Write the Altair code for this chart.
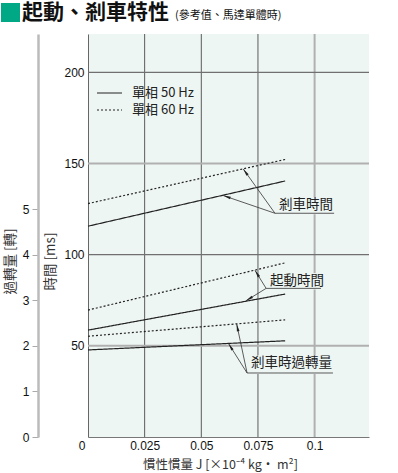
import math
import altair as alt
import pandas as pd

# ---------------- data ----------------
freqs = ["單相 50 Hz", "單相 60 Hz"]
j_points = [0.0, 0.087]                       # inertia J at line start / end
brake_50 = [115.6, 140.4]                     # braking time [ms]
brake_60 = [128.0, 152.2]
start_50 = [58.6, 78.4]                       # starting time [ms]
start_60 = [69.6, 95.5]
over_50 = [1.91, 2.11]                        # overrun [rev]
over_60 = [2.21, 2.57]

x_ticks = [0, 0.025, 0.05, 0.075, 0.1]
t_ticks = [50, 100, 150, 200]
r_ticks = [0, 1, 2, 3, 4, 5]
grid_dark_x = [0.025, 0.05, 0.075]
grid_light_x = [0.1]
grid_dark_t = [100, 200]
grid_light_t = [50, 150]

# annotations: label text, text left/centre, underline, arrow targets
ann_brake = dict(text="剎車時間", tx=0.0843, ty=127.1, ux1=0.0825, ux2=0.1086, uy=122.7,
                 targets=[(0.0685, 147.0), (0.0597, 132.4)])
ann_start = dict(text="起動時間", tx=0.0803, ty=85.6, ux1=0.0786, ux2=0.1028, uy=81.5,
                 targets=[(0.0737, 91.4), (0.0697, 74.7)])
ann_over = dict(text="剎車時過轉量", tx=0.0719, ty=1.617, ux1=0.0702, ux2=0.1081, uy=1.404,
                targets=[(0.0656, 2.48), (0.0620, 2.05)])

title_main = "起動、剎車特性"
title_sub = "(參考值、馬達單體時)"
x_title = "慣性慣量 J [×10⁻⁴ kg· m²]"
t_title = "時間 [ms]"
r_title = "過轉量 [轉]"

# ---------------- layout / style ----------------
W, H = 281, 403
XMAX, TMAX = 0.124, 221
RMAX = 8.84
PPX = W / XMAX
PPT = H / TMAX
PPR = H / RMAX
NUM = "Liberation Sans"
CJK = "Noto Sans CJK TC"
BG = "#eef6f3"
INK = "#222222"
ARROW = "M0,0L0.36,2L-0.36,2Z"

xscale = alt.Scale(domain=[0, XMAX], nice=False, zero=False)
tscale = alt.Scale(domain=[0, TMAX], nice=False, zero=False)
rscale = alt.Scale(domain=[0, RMAX], nice=False, zero=False)
dash_scale = alt.Scale(domain=freqs, range=[[1, 0], [2, 2]])

xaxis = alt.Axis(values=x_ticks, format="~g", tickSize=0, labelPadding=3,
                 labelFont=NUM, labelFontSize=12, labelColor="#111",
                 labelAlign={"condition": {"test": "datum.value == 0", "value": "right"}, "value": "center"},
                 labelOffset={"condition": {"test": "datum.value == 0", "value": -3}, "value": 0},
                 domainColor="#777", domainWidth=1, grid=False,
                 title=x_title, titleFont=CJK, titleFontSize=12.5, titleFontWeight="normal",
                 titleColor="#333", titleX=132, titleY=27, titleBaseline="middle", titleAlign="center")
taxis = alt.Axis(orient="left", values=t_ticks, tickSize=0, labelPadding=4, labelFont=NUM, labelFontSize=12,
                 labelColor="#111", domainColor="#666", domainWidth=1, grid=False,
                 title=t_title, titleFont=CJK, titleFontSize=13.5, titleFontWeight="normal",
                 titleColor="#333", titleX=-38, titleY=227, titleAngle=270,
                 titleBaseline="middle", titleAlign="center")
raxis = alt.Axis(orient="left", values=r_ticks, offset=50, tickSize=6, tickColor="#aaa", tickWidth=1,
                 domainColor="#bbb", domainWidth=2.5, labelPadding=3, labelFont=NUM,
                 labelFontSize=12, labelColor="#111", grid=False,
                 title=r_title, titleFont=CJK, titleFontSize=13.5, titleFontWeight="normal",
                 titleColor="#333", titleX=-28, titleY=227, titleAngle=270,
                 titleBaseline="middle", titleAlign="center")


def X(f="x"):
    return alt.X(f"{f}:Q", scale=xscale, axis=xaxis)


def line_df(series):
    rows = []
    for name, vals in series:
        for f, v in zip(freqs, vals):
            for j, y in zip(j_points, v):
                rows.append({"series": name + f, "freq": f, "x": j, "y": y})
    return pd.DataFrame(rows)


def ann_frames(a, ppy):
    arrows, heads = [], []
    for tx, ty in a["targets"]:
        arrows.append({"x": a["ux1"], "y": a["uy"], "x2": tx, "y2": ty})
        ang = math.degrees(math.atan2((tx - a["ux1"]) * PPX, (ty - a["uy"]) * ppy)) % 360
        heads.append({"x": tx, "y": ty, "ang": ang})
    under = pd.DataFrame([{"x": a["ux1"], "x2": a["ux2"], "y": a["uy"]}])
    box = pd.DataFrame([{"x": a["tx"] - 2 / PPX, "x2": a["ux2"], "y": a["uy"] - 1 / ppy,
                         "y2": a["ty"] + 8 / ppy}])
    txt = pd.DataFrame([{"x": a["tx"], "y": a["ty"], "t": a["text"]}])
    return pd.DataFrame(arrows), pd.DataFrame(heads), under, box, txt


def ann_layers(a, Y, ppy):
    arrows, heads, under, box, txt = ann_frames(a, ppy)
    Y2 = lambda f: alt.Y2(f"{f}:Q")
    back = alt.Chart(box).mark_rect(fill=BG).encode(x=X(), x2=alt.X2("x2:Q"), y=Y("y"), y2=Y2("y2"))
    arr = alt.Chart(arrows).mark_rule(color="#333", strokeWidth=0.8).encode(
        x=X(), x2=alt.X2("x2:Q"), y=Y("y"), y2=Y2("y2"))
    hd = alt.Chart(heads).mark_point(shape=ARROW, filled=True, size=56, color="#222", opacity=1).encode(
        x=X(), y=Y("y"), angle=alt.Angle("ang:Q", scale=None))
    ul = alt.Chart(under).mark_rule(color="#333", strokeWidth=0.8).encode(x=X(), x2=alt.X2("x2:Q"), y=Y("y"))
    tx = alt.Chart(txt).mark_text(align="left", baseline="middle", font=CJK, fontSize=13.5,
                                  color=INK).encode(x=X(), y=Y("y"), text="t:N")
    return [back, arr, hd, ul, tx]


def TY(f="y"):
    return alt.Y(f"{f}:Q", scale=tscale, axis=taxis)


def RY(f="y"):
    return alt.Y(f"{f}:Q", scale=rscale, axis=raxis)


one = pd.DataFrame({"k": [0]})

# grid
g1 = alt.Chart(pd.DataFrame({"x": grid_dark_x})).mark_rule(color="#5a5a5a", strokeWidth=1).encode(x=X())
g2 = alt.Chart(pd.DataFrame({"x": grid_light_x})).mark_rule(color="#b0b0b0", strokeWidth=2).encode(x=X())
g3 = alt.Chart(pd.DataFrame({"y": grid_dark_t})).mark_rule(color="#707070", strokeWidth=1.2).encode(y=TY())
g4 = alt.Chart(pd.DataFrame({"y": grid_light_t})).mark_rule(color="#b0b0b0", strokeWidth=2).encode(y=TY())

tlines = alt.Chart(line_df([("brake", [brake_50, brake_60]), ("start", [start_50, start_60])])).mark_line(
    color=INK, strokeWidth=1.2).encode(
    x=X(), y=TY(), detail="series:N",
    strokeDash=alt.StrokeDash("freq:N", scale=dash_scale, legend=None))

rlines = alt.Chart(line_df([("over", [over_50, over_60])])).mark_line(
    color=INK, strokeWidth=1.2).encode(
    x=X(), y=RY(), detail="series:N",
    strokeDash=alt.StrokeDash("freq:N", scale=dash_scale, legend=None))

# legend (drawn by hand, in pixel layout)
leg = []
for i, (f, dash) in enumerate(zip(freqs, [[1, 0], [2, 2]])):
    yy = 59 + 17 * i
    leg.append(alt.Chart(one).mark_rule(color=INK, strokeWidth=1, strokeDash=dash).encode(
        x=alt.value(9), x2=alt.value(34), y=alt.value(yy)))
    leg.append(alt.Chart(pd.DataFrame({"t": [f]})).mark_text(
        align="left", baseline="middle", font=CJK, fontSize=13, color=INK).encode(
        x=alt.value(44), y=alt.value(yy), text="t:N"))

# title
sq = alt.Chart(one).mark_rect(color="#00a886").encode(
    x=alt.value(-87), x2=alt.value(-68), y=alt.value(-31), y2=alt.value(-12))
t1 = alt.Chart(pd.DataFrame({"t": [title_main]})).mark_text(
    align="left", baseline="middle", font=CJK, fontSize=21, fontWeight="bold", color="#111").encode(
    x=alt.value(-66), y=alt.value(-21), text="t:N")
t2 = alt.Chart(pd.DataFrame({"t": [title_sub]})).mark_text(
    align="left", baseline="middle", font=CJK, fontSize=11, color="#111").encode(
    x=alt.value(87), y=alt.value(-18), text="t:N")

time_layer = alt.layer(g1, g2, g3, g4, tlines,
                       *ann_layers(ann_brake, TY, PPT), *ann_layers(ann_start, TY, PPT),
                       *leg, sq, t1, t2)
rev_layer = alt.layer(rlines, *ann_layers(ann_over, RY, PPR))

chart = alt.layer(time_layer, rev_layer).resolve_scale(y="independent").properties(
    width=W, height=H,
    autosize=alt.AutoSizeParams(type="none"),
    padding={"left": 88, "top": 34, "right": 29, "bottom": 36},
).configure_view(fill=BG, strokeWidth=0)

chart.save("out.html", embed_options={"renderer": "svg", "actions": False})
